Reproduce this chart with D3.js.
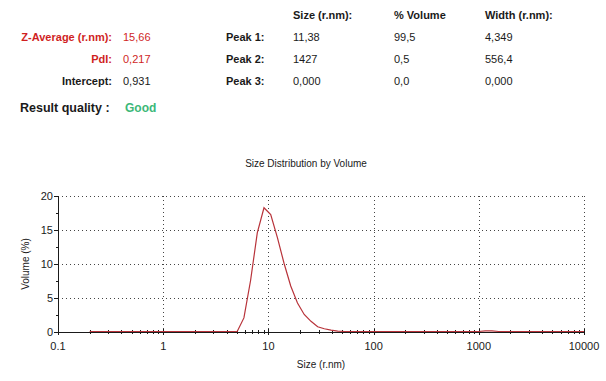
<!DOCTYPE html>
<html>
<head>
<meta charset="utf-8">
<script src="https://cdn.jsdelivr.net/npm/d3@7.9.0/dist/d3.min.js"></script>
<style>
  body { margin: 0; background: #fff; }
  svg { display: block; font-family: Arial, 'Liberation Sans', sans-serif; }
</style>
</head>
<body>
<svg id="chart" width="606" height="381"></svg>
<script>
// summary values
const summaryLabels = ['Z-Average (r.nm):', 'PdI:', 'Intercept:'];
const summaryValues = ['15,66', '0,217', '0,931'];
const summaryRed = [true, true, false];
const peakLabels = ['Peak 1:', 'Peak 2:', 'Peak 3:'];
const peakHeaders = ['Size (r.nm):', '% Volume', 'Width (r.nm):'];
const peakSize = ['11,38', '1427', '0,000'];
const peakVolume = ['99,5', '0,5', '0,0'];
const peakWidth = ['4,349', '556,4', '0,000'];
const resultQuality = 'Good';

// size distribution (radius nm, volume %)
const sizes = [0.2, 5.05, 5.85, 6.77, 7.84, 9.08, 10.52, 12.18, 14.1, 16.3, 18.9, 21.9, 25.4, 29.4, 34.0, 39.4, 45.6, 52.8, 995, 1152, 1334, 1546, 10000];
const volumes = [0, 0, 2.0, 7.5, 14.5, 18.2, 17.2, 13.8, 10.0, 6.7, 4.2, 2.5, 1.5, 0.7, 0.4, 0.2, 0.05, 0, 0, 0.1, 0.1, 0, 0];
const xTicks = [0.1, 1, 10, 100, 1000, 10000];
const yTicks = [0, 5, 10, 15, 20];

const svg = d3.select('#chart');
const red = '#d01f1f';
const ink = '#1a1a1a';

// header block
const rowY = [40.5, 63, 85];
summaryLabels.forEach((t, i) => {
  svg.append('text').attr('x', 112).attr('y', rowY[i]).attr('text-anchor', 'end')
    .attr('font-size', 11).attr('font-weight', 'bold')
    .attr('fill', summaryRed[i] ? red : ink).text(t);
  svg.append('text').attr('x', 123).attr('y', rowY[i])
    .attr('font-size', 11).attr('fill', summaryRed[i] ? red : ink).text(summaryValues[i]);
});
svg.append('text').attr('x', 20).attr('y', 111.5).attr('font-size', 12.5).attr('font-weight', 'bold')
  .attr('fill', ink).text('Result quality :');
svg.append('text').attr('x', 125).attr('y', 111.5).attr('font-size', 12).attr('font-weight', 'bold')
  .attr('fill', '#3cb878').text(resultQuality);

const colX = [293, 394, 485];
peakHeaders.forEach((t, i) => {
  svg.append('text').attr('x', colX[i]).attr('y', 19).attr('font-size', 11).attr('font-weight', 'bold')
    .attr('fill', ink).text(t);
});
peakLabels.forEach((t, i) => {
  svg.append('text').attr('x', 226).attr('y', rowY[i]).attr('font-size', 11).attr('font-weight', 'bold')
    .attr('fill', ink).text(t);
  [peakSize, peakVolume, peakWidth].forEach((col, j) => {
    svg.append('text').attr('x', colX[j]).attr('y', rowY[i]).attr('font-size', 11)
      .attr('fill', ink).text(col[i]);
  });
});

// chart
const plot = { left: 58, right: 584, top: 196, bottom: 332 };
const x = d3.scaleLog().domain([0.1, 10000]).range([plot.left, plot.right]);
const y = d3.scaleLinear().domain([0, 20]).range([plot.bottom, plot.top]);

svg.append('text').attr('x', 306).attr('y', 167).attr('text-anchor', 'middle')
  .attr('font-size', 10).attr('fill', ink).text('Size Distribution by Volume');

// dotted grid
const dots = '1,3';
svg.append('g').selectAll('line').data(yTicks.filter(d => d > 0)).join('line')
  .attr('x1', plot.left).attr('x2', plot.right)
  .attr('y1', d => y(d) + 0.5).attr('y2', d => y(d) + 0.5)
  .attr('stroke', '#444').attr('stroke-dasharray', dots);
svg.append('g').selectAll('line').data(xTicks.filter(d => d > 0.1)).join('line')
  .attr('x1', d => Math.round(x(d)) + 0.5).attr('x2', d => Math.round(x(d)) + 0.5)
  .attr('y1', plot.top).attr('y2', plot.bottom)
  .attr('stroke', '#444').attr('stroke-dasharray', dots);

// y axis
const yMinor = d3.range(0, 20.1, 2.5);
svg.append('line').attr('x1', plot.left + 0.5).attr('x2', plot.left + 0.5)
  .attr('y1', plot.top).attr('y2', plot.bottom + 1).attr('stroke', ink);
svg.append('g').selectAll('line').data(yMinor).join('line')
  .attr('x1', d => d % 5 === 0 ? plot.left - 4 : plot.left - 2).attr('x2', plot.left)
  .attr('y1', d => Math.round(y(d)) + 0.5).attr('y2', d => Math.round(y(d)) + 0.5)
  .attr('stroke', ink);
svg.append('g').selectAll('text').data(yTicks).join('text')
  .attr('x', 53).attr('y', d => y(d) + 4).attr('text-anchor', 'end')
  .attr('font-size', 11).attr('fill', ink).text(d => d);
svg.append('text').attr('transform', `translate(29,${(plot.top + plot.bottom) / 2}) rotate(-90)`)
  .attr('text-anchor', 'middle').attr('font-size', 10).attr('fill', ink).text('Volume (%)');

// x axis
svg.append('line').attr('x1', plot.left).attr('x2', plot.right + 1)
  .attr('y1', plot.bottom + 0.5).attr('y2', plot.bottom + 0.5).attr('stroke', ink);
const xMinor = x.ticks().filter(d => !xTicks.includes(d));
svg.append('g').selectAll('line').data(xMinor).join('line')
  .attr('x1', d => Math.round(x(d)) + 0.5).attr('x2', d => Math.round(x(d)) + 0.5)
  .attr('y1', plot.bottom - 2).attr('y2', plot.bottom + 2).attr('stroke', ink);
svg.append('g').selectAll('line').data(xTicks).join('line')
  .attr('x1', d => Math.round(x(d)) + 0.5).attr('x2', d => Math.round(x(d)) + 0.5)
  .attr('y1', plot.bottom - 3).attr('y2', plot.bottom + 3).attr('stroke', ink);
svg.append('g').selectAll('text').data(xTicks).join('text')
  .attr('x', d => x(d)).attr('y', 350).attr('text-anchor', 'middle')
  .attr('font-size', 11).attr('fill', ink).text(d => d);
svg.append('text').attr('x', (plot.left + plot.right) / 2).attr('y', 368).attr('text-anchor', 'middle')
  .attr('font-size', 10).attr('fill', ink).text('Size (r.nm)');

// curve
const line = d3.line().x((d, i) => x(sizes[i])).y(d => y(d) - 0.5);
svg.append('path').datum(volumes).attr('d', line)
  .attr('fill', 'none').attr('stroke', '#b8333a').attr('stroke-width', 1.2);
</script>
</body>
</html>
